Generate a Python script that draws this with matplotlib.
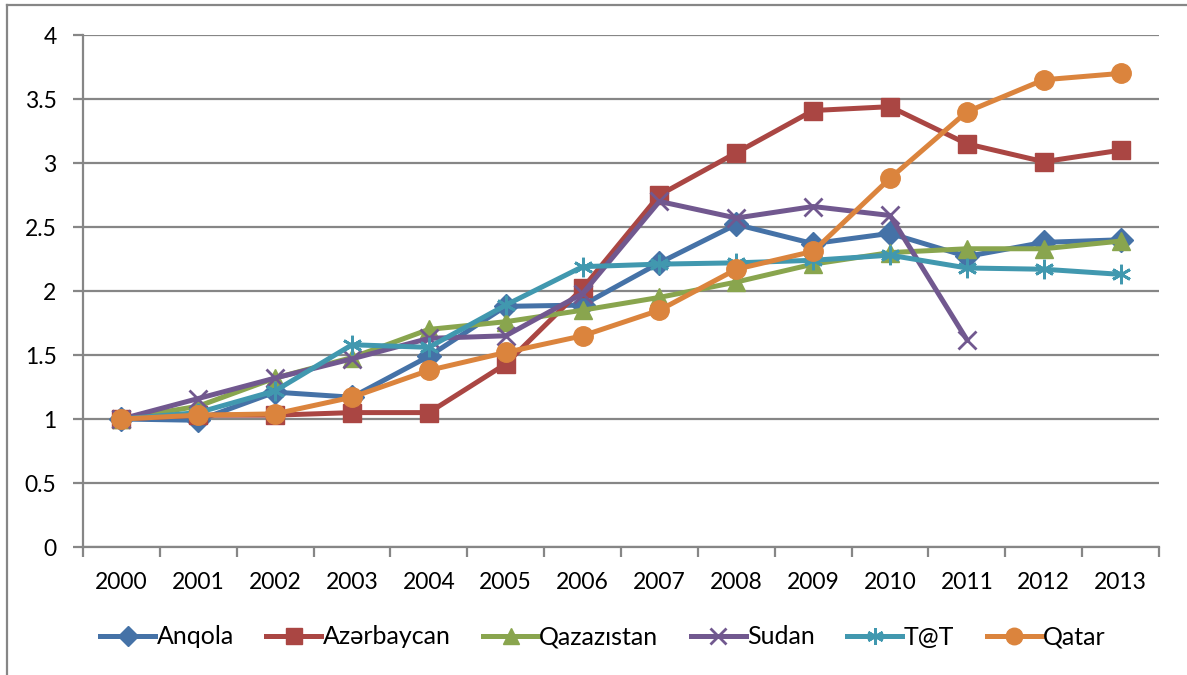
import numpy as np
import matplotlib.pyplot as plt
from matplotlib.lines import Line2D

years = ['2000', '2001', '2002', '2003', '2004', '2005', '2006',
         '2007', '2008', '2009', '2010', '2011', '2012', '2013']

anqola = [1.00, 0.99, 1.21, 1.17, 1.49, 1.88, 1.89, 2.22, 2.52, 2.37, 2.45, 2.27, 2.38, 2.40]
azerbaycan = [1.00, 1.03, 1.03, 1.05, 1.05, 1.43, 2.02, 2.75, 3.08, 3.41, 3.44, 3.15, 3.01, 3.10]
qazazistan = [1.00, 1.10, 1.32, 1.48, 1.70, 1.76, 1.85, 1.95, 2.07, 2.21, 2.30, 2.33, 2.33, 2.39]
sudan = [1.00, 1.16, 1.32, 1.47, 1.63, 1.65, 1.98, 2.70, 2.57, 2.66, 2.59, 1.62]
tat = [1.00, 1.05, 1.22, 1.58, 1.56, 1.89, 2.19, 2.21, 2.22, 2.24, 2.28, 2.18, 2.17, 2.13]
qatar = [1.00, 1.03, 1.04, 1.17, 1.38, 1.52, 1.65, 1.85, 2.17, 2.31, 2.88, 3.40, 3.65, 3.70]

series = [
    ('Anqola', anqola, '#4572A7', 'D', 12),
    ('Azərbaycan', azerbaycan, '#AA4643', 's', 13),
    ('Qazazıstan', qazazistan, '#89A54E', '^', 13),
    ('Sudan', sudan, '#71588F', 'x', 13),
    ('T@T', tat, '#4198AF', (6, 2, 0), 14),
    ('Qatar', qatar, '#DB843D', 'o', 14),
]

plt.rcParams['font.family'] = ['Lato', 'DejaVu Sans']

fig = plt.figure(figsize=(11.87, 6.75), dpi=100)
ax = fig.add_axes([83 / 1187, 1 - 547 / 675, (1159 - 83) / 1187, (547 - 35) / 675])

handles = []
for name, vals, color, marker, ms in series:
    x = np.arange(len(vals))
    mew = 2 if marker in ('x', (6, 2, 0)) else 1
    ax.plot(x, vals, color=color, lw=3.6, marker=marker, ms=ms,
            mfc=color, mec=color, mew=mew, solid_joinstyle='round')
    handles.append(Line2D([], [], color=color, lw=3.6, marker=marker, ms=ms * 0.85,
                          mfc=color, mec=color, mew=mew, label=name))

ax.set_xlim(-0.5, len(years) - 0.5)
ax.set_ylim(0, 4)
ax.set_yticks(np.arange(0, 4.01, 0.5))
ax.set_yticklabels(['0', '0.5', '1', '1.5', '2', '2.5', '3', '3.5', '4'])
ax.yaxis.grid(True, color='#868686', lw=1.6)
ax.set_axisbelow(True)

ax.set_xticks(np.arange(len(years)))
ax.set_xticklabels(years)
ax.set_xticks(np.arange(-0.5, len(years)), minor=True)
ax.tick_params(axis='x', which='major', length=0, pad=18, labelsize=16.5)
ax.tick_params(axis='x', which='minor', length=7, width=1.6, color='#868686', direction='out')
ax.tick_params(axis='y', length=7, width=1.6, color='#868686', labelsize=16.5, pad=12)

for side in ['top', 'right']:
    ax.spines[side].set_visible(False)
for side in ['left', 'bottom']:
    ax.spines[side].set_color('#868686')
    ax.spines[side].set_linewidth(1.6)

fig.legend(handles=handles, loc='center', bbox_to_anchor=(0.508, 1 - 637 / 675),
           ncol=6, frameon=False, fontsize=18, handlelength=2.2,
           handletextpad=0.05, columnspacing=1.3)

# outer chart frame
fig.add_artist(plt.Line2D([7 / 1187, 7 / 1187], [0, 1 - 5 / 675],
                          transform=fig.transFigure, color='#868686', lw=1.6))
fig.add_artist(plt.Line2D([7 / 1187, 1], [1 - 5 / 675, 1 - 5 / 675],
                          transform=fig.transFigure, color='#868686', lw=1.6))

fig.savefig('out.png', dpi=100)
